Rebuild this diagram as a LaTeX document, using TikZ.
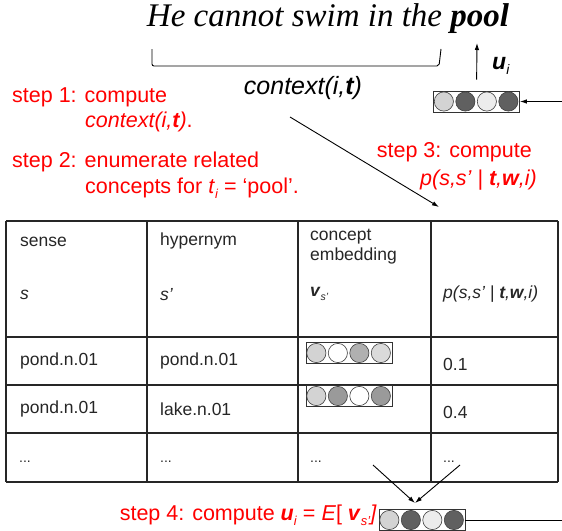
\documentclass[tikz,border=0pt]{standalone}
\usepackage{fontspec}
\setmainfont{Liberation Sans}
\newfontfamily\serifit{Liberation Serif}
\usetikzlibrary{arrows.meta}

\definecolor{gLight}{HTML}{D3D3D3}
\definecolor{gPale}{HTML}{ECECEC}
\definecolor{gMid}{HTML}{B0B0B0}
\definecolor{gSoft}{HTML}{DADADA}
\definecolor{gGrey}{HTML}{9A9A9A}
\definecolor{gDark}{HTML}{606060}

% embedding vector: name, centre, fill colours of the four units
\newcommand{\embvec}[3]{%
  \node[vecbox] (#1) at (#2) {};
  \foreach \col [count=\k] in {#3}
    \draw[draw=black!75, line width=0.6pt, fill=\col]
      ([xshift={(\k-0.5)*21.5pt}]#1.west) circle (9.6pt);
}
% low subscript, as the slides set it
\newcommand{\lowsub}[1]{\raisebox{-0.45ex}{\fontsize{0.6em}{1em}\selectfont #1}}

\begin{document}
\begin{tikzpicture}[x=1pt, y=-1pt,
    vecbox/.style={draw=black!80, line width=0.8pt, fill=white,
      minimum width=86pt, minimum height=21pt, inner sep=0},
    stepnote/.style={text=red, anchor=west, inner sep=0,
      font=\fontsize{21.5}{25}\selectfont},
    cell/.style={text=black!85, anchor=west, inner sep=0,
      font=\fontsize{17.5}{20}\selectfont},
    grid/.style={draw=black!85, line width=1.1pt},
    arr/.style={-{Latex[length=7pt,width=4.5pt]}, line width=0.9pt}]
  \useasboundingbox (0,0) rectangle (562,530);

  % sentence and its context bracket
  \node[font=\serifit\itshape\fontsize{33}{36}\selectfont] (sent) at (328,19)
    {He cannot swim in the \textbf{pool}};
  \draw[line width=0.9pt, rounded corners=2pt] (152,49) -- (152,66) -- (439,66) -- (441,49);
  \node[font=\itshape\fontsize{25}{28}\selectfont, inner sep=0] (ctx) at (303,88)
    {context(i,\textbf{t})};

  % steps
  \node[stepnote] (s1a) at (12,97) {step 1: compute};
  \node[stepnote] (s1b) at (85,122) {\textit{context(i,\textbf{t})}.};
  \node[stepnote] (s2a) at (12,162) {step 2: enumerate related};
  \node[stepnote] (s2b) at (85,188)
    {concepts for \textit{t}\lowsub{\textit{i}} = ‘pool’.};
  \node[stepnote, anchor=east] (s3a) at (532,152) {step 3: compute};
  \node[stepnote, anchor=east] (s3b) at (537,180)
    {\textit{p(s,s’ | \textbf{t},\textbf{w},i)}};
  \node[stepnote, anchor=east] (s4) at (377,515)
    {step 4: compute \textbf{\textit{u}}\lowsub{\textit{i}} = \textit{E}[ \textbf{\textit{v}}\lowsub{\textit{s’}}\textit{]}};

  % table
  \foreach \x in {6,147,298,431,558}
    \draw[grid] (\x,221) -- (\x,482);
  \foreach \y in {221,337,385,433,482}
    \draw[grid] (6,\y) -- (558,\y);

  \node[cell] (hsense) at (20,242) {sense};
  \node[cell] (hs) at (20,295) {\textit{s}};
  \node[cell] (hhyper) at (160,241) {hypernym};
  \node[cell] (hsp) at (160,295) {\textit{s’}};
  \node[cell, align=left] (hconc) at (310,247) {concept\\embedding};
  \node[cell] (hv) at (310,294) {\textbf{\textit{v}}\lowsub{\textit{s’}}};
  \node[cell] (hp) at (443,294) {\textit{p(s,s’ | \textbf{t},\textbf{w},i)}};

  \foreach \sense/\hyper/\prob/\yy [count=\r] in
      {pond.n.01/pond.n.01/0.1/361, pond.n.01/lake.n.01/0.4/409} {
    \node[cell] (sense\r) at (20,\yy) {\sense};
    \node[cell] (hyper\r) at (160,\yy) {\hyper};
    \node[cell] (prob\r) at (443,\yy+3) {\prob};
  }
  \foreach \x [count=\c] in {19,160,310,443}
    \node[cell, font=\fontsize{14}{16}\selectfont] (dots\c) at (\x,462) {...};

  \embvec{vrow1}{349,353}{gLight,white,gMid,gSoft}
  \embvec{vrow2}{349,396}{gLight,gGrey,white,gGrey}

  % expected concept embedding, fed back to the word
  \embvec{uout}{422,520}{gLight,gDark,gPale,gDark}
  \embvec{uvec}{476.5,101.5}{gLight,gDark,gPale,gDark}
  \node[font=\bfseries\itshape\fontsize{23}{26}\selectfont, anchor=west, inner sep=0]
    (ulabel) at (492,66) {u\lowsub{\mdseries i}};

  \coordinate (ctxfoot) at (290,117);
  \coordinate (tabtop) at (439,207);
  \coordinate (from3) at (373,465);
  \coordinate (from4) at (460,465);
  \coordinate (meet) at (415,503);
  \coordinate (poolword) at (477,43);
  \coordinate (edgein) at (562,101.5);
  \coordinate (edgeout) at (562,520);

  \draw[arr] (ctxfoot) -- (tabtop);
  \draw[arr] (from3) -- (meet);
  \draw[arr] (from4) -- (meet);
  \draw[line width=0.9pt] (uout.east) -- (edgeout);
  \draw[arr] (edgein) -- (uvec.east);
  \draw[arr, shorten <=11pt] (uvec.north) -- (poolword);
\end{tikzpicture}
\end{document}
